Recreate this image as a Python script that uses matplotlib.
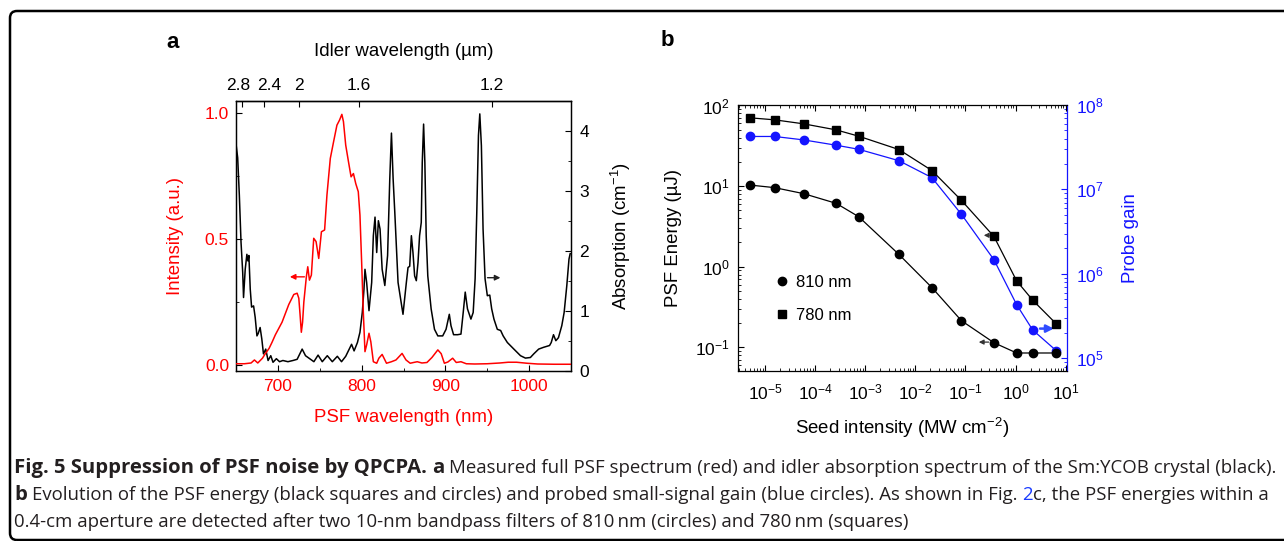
import numpy as np
import matplotlib
matplotlib.use("Agg")
import matplotlib.pyplot as plt
from matplotlib.patches import FancyBboxPatch
from matplotlib.transforms import IdentityTransform
from matplotlib.ticker import MultipleLocator, LogLocator, NullFormatter, FormatStrFormatter
from matplotlib.lines import Line2D

plt.rcParams.update({
    "font.family": ["Liberation Sans", "DejaVu Sans"],
    "mathtext.fontset": "custom",
    "mathtext.rm": "Liberation Sans",
    "mathtext.it": "Liberation Sans:italic",
    "mathtext.bf": "Liberation Sans:bold",
    "axes.linewidth": 0.9,
})

# ---------------- data: panel a ----------------
psf_nm = [650, 660, 668, 672, 676, 681.6, 685, 689.5, 693, 697,
          701, 705, 709, 713, 716, 719, 723, 725, 726.5, 728,
          729.5, 731, 734, 735.7, 737.7, 740, 742.8, 745.6, 748.8, 752,
          755.8, 758.6, 762.6, 766.5, 770.5, 773.6, 776.4, 778.3, 781, 784.3,
          787.4, 790.2, 793, 796, 798, 800, 802, 804, 806, 808.8,
          811, 814, 818, 820.6, 824.5, 829.7, 835.6, 841, 848.3, 853,
          858, 862, 866.4, 872, 878, 884, 891, 895, 898.8, 903,
          908.7, 913, 918.6, 925, 935, 950, 965, 975, 985, 997.5,
          1010, 1030, 1050]
psf_int = [0.005, 0.005, 0.008, 0.02, 0.008, 0.027, 0.045, 0.066, 0.09, 0.12,
           0.145, 0.17, 0.205, 0.24, 0.26, 0.28, 0.285, 0.265, 0.2, 0.13,
           0.17, 0.25, 0.35, 0.39, 0.337, 0.357, 0.503, 0.49, 0.423, 0.529,
           0.536, 0.675, 0.82, 0.886, 0.952, 0.972, 0.995, 0.966, 0.873, 0.807,
           0.747, 0.76, 0.72, 0.688, 0.595, 0.41, 0.21, 0.053, 0.08, 0.126,
           0.092, 0.013, 0.007, 0.027, 0.042, 0.007, 0.013, 0.02, 0.046, 0.02,
           0.007, 0.01, 0.013, 0.008, 0.01, 0.03, 0.06, 0.045, 0.007, 0.012,
           0.027, 0.01, 0.013, 0.005, 0.004, 0.005, 0.008, 0.011, 0.011, 0.007,
           0.004, 0.003, 0.003]

abs_nm = [650, 652, 654, 656, 658, 659, 661, 663, 664.2, 665.4,
          667, 668.6, 671, 672.9, 675, 676.5, 678.8, 680.8, 682.8, 685.5,
          688.3, 691.5, 694.2, 698.2, 702, 706, 712, 718, 723, 729,
          733, 738, 743, 748, 753, 759, 765, 771, 776, 781,
          788, 791, 795, 798, 800.8, 802.8, 804, 806, 808.8, 812,
          814, 816, 818, 820, 822, 824.5, 827.7, 831, 833.6, 835.6,
          837.6, 839.6, 843.5, 849.4, 853.4, 855.4, 857.4, 859.4, 861.3, 863.3,
          865.3, 867.3, 869.2, 871.2, 872.4, 874, 875.5, 877.1, 879, 883,
          887, 891, 896.8, 900.8, 904.7, 906.7, 909.8, 914.6, 918.6, 921.3,
          923.7, 926.4, 930.5, 933.2, 935.5, 937.5, 939.5, 941.1, 943, 945,
          947.4, 950.1, 953, 955.3, 958, 962, 966, 969, 974, 981.8,
          989.7, 995.6, 1001.5, 1005.5, 1011.4, 1017.3, 1024.4, 1026.4, 1029.1, 1031.9,
          1035, 1039, 1041.8, 1045, 1047.6, 1049]
abs_val = [3.78, 3.55, 2.92, 2.14, 1.64, 1.22, 1.69, 1.94, 1.83, 1.92,
           1.36, 1.06, 1.08, 0.89, 0.58, 0.62, 0.72, 0.53, 0.28, 0.36,
           0.17, 0.25, 0.14, 0.2, 0.15, 0.17, 0.15, 0.17, 0.19, 0.36,
           0.25, 0.2, 0.15, 0.26, 0.15, 0.25, 0.15, 0.24, 0.15, 0.24,
           0.44, 0.33, 0.47, 0.64, 0.97, 1.36, 1.69, 1.47, 1.0, 1.47,
           2.25, 2.56, 1.97, 2.5, 2.36, 1.69, 1.42, 1.92, 3.19, 3.96,
           3.2, 2.64, 1.47, 0.94, 1.47, 1.72, 1.74, 2.25, 1.97, 1.58,
           1.5, 1.8, 2.25, 2.47, 3.47, 4.11, 3.47, 2.25, 1.58, 1.03,
           0.69, 0.58, 0.58, 0.69, 0.94, 0.75, 0.6, 0.6, 0.61, 0.97,
           1.31, 1.03, 0.86, 0.97, 1.53, 2.64, 3.92, 4.28, 3.75, 2.36,
           1.53, 1.25, 1.26, 1.03, 0.86, 0.69, 0.67, 0.58, 0.47, 0.36,
           0.25, 0.21, 0.22, 0.28, 0.36, 0.39, 0.42, 0.47, 0.6, 0.5,
           0.55, 0.75, 0.97, 1.42, 1.86, 1.95]

pump_nm = 532.0
idler_ticks = [2.8, 2.4, 2.0, 1.6, 1.2]
idler_labels = ["2.8", "2.4", "2", "1.6", "1.2"]

# ---------------- data: panel b ----------------
seed = [5.0e-6, 1.55e-5, 5.9e-5, 2.63e-4, 7.4e-4, 4.7e-3, 0.0214, 0.083, 0.37, 1.05, 2.19, 6.5]
e780 = [70.3, 66.4, 59.2, 49.8, 41.6, 28.4, 15.6, 6.65, 2.37, 0.667, 0.385, 0.195]
e810 = [10.3, 9.57, 8.06, 6.11, 4.17, 1.42, 0.551, 0.214, 0.114, 0.085, 0.085, 0.085]
gain = [4.24e7, 4.24e7, 3.86e7, 3.34e7, 2.99e7, 2.19e7, 1.38e7, 5.08e6, 1.47e6, 4.32e5, 2.17e5, 1.23e5]

W, H = 1284, 541
fig = plt.figure(figsize=(W / 100, H / 100), dpi=100)


def rect(l, t, r, b):
    return [l / W, 1 - b / H, (r - l) / W, (b - t) / H]


RED = "#ff0000"
BLUE = "#1414ff"
TICK = 12.5
LAB = 13.4

# ================= panel a =================
axA = fig.add_axes(rect(236, 101, 571, 370.7))
axA.plot(psf_nm, psf_int, color=RED, lw=1.1, zorder=3)
axA.set_xlim(650, 1050)
axA.set_ylim(-0.0226, 1.048)
axA.xaxis.set_major_locator(MultipleLocator(100))
axA.xaxis.set_minor_locator(MultipleLocator(50))
axA.yaxis.set_major_locator(MultipleLocator(0.5))
axA.yaxis.set_minor_locator(MultipleLocator(0.25))
axA.yaxis.set_major_formatter(FormatStrFormatter("%.1f"))
axA.tick_params(which="both", direction="in", top=False, right=False, labelsize=TICK)
axA.tick_params(which="major", length=4)
axA.tick_params(which="minor", length=2.5)
axA.tick_params(axis="both", labelcolor=RED)
axA.tick_params(axis="x", pad=6)
axA.tick_params(axis="y", pad=5)
axA.set_xlabel("PSF wavelength (nm)", color=RED, fontsize=LAB, labelpad=11)
axA.set_ylabel("Intensity (a.u.)", color=RED, fontsize=LAB, labelpad=15)

axA2 = axA.twinx()
axA2.plot(abs_nm, abs_val, color="black", lw=1.1, zorder=2)
axA2.set_ylim(0, 4.495)
axA2.yaxis.set_major_locator(MultipleLocator(1))
axA2.yaxis.set_minor_locator(MultipleLocator(0.5))
axA2.tick_params(which="both", direction="in", labelsize=TICK, pad=6)
axA2.tick_params(which="major", length=4)
axA2.tick_params(which="minor", length=2.5)
axA2.set_ylabel("Absorption (cm$^{-1}$)", fontsize=LAB, labelpad=14)
axA.set_zorder(axA2.get_zorder() + 1)
axA.patch.set_visible(False)


def sig2idl(x):
    x = np.asarray(x, dtype=float)
    with np.errstate(divide="ignore", invalid="ignore"):
        return 1.0 / (1.0 / pump_nm - 1.0 / x) / 1000.0


def idl2sig(i):
    i = np.asarray(i, dtype=float)
    with np.errstate(divide="ignore", invalid="ignore"):
        return 1.0 / (1.0 / pump_nm - 1.0 / (1000.0 * i))


sec = axA.secondary_xaxis("top", functions=(sig2idl, idl2sig))
sec.set_xticks(idler_ticks)
sec.tick_params(direction="in", length=4, labeltop=False)
sec.set_xlabel("Idler wavelength (\u00b5m)", fontsize=LAB, va="center")
sec.xaxis.set_label_coords((236 + 571) / 2 / W, 1 - 52 / H, transform=fig.transFigure)

# idler tick labels (the two crowded ones are nudged apart as in the original)
label_nudge = {"2.8": -2.7, "2.4": 3.8}
for v, lab in zip(idler_ticks, idler_labels):
    axA.annotate(lab, xy=(float(idl2sig(v)), 1.0), xycoords=axA.get_xaxis_transform(),
                 xytext=(label_nudge.get(lab, 0.0), 6), textcoords="offset points",
                 ha="center", va="bottom", fontsize=TICK, color="black")

axA.annotate("", xy=(711, 0.35), xytext=(735, 0.35),
             arrowprops=dict(arrowstyle="-|>", color=RED, lw=1.0, mutation_scale=8))
axA2.annotate("", xy=(969, 1.55), xytext=(947, 1.55),
              arrowprops=dict(arrowstyle="-|>", color="#222222", lw=1.0, mutation_scale=8))

# ================= panel b =================
axB = fig.add_axes(rect(737.7, 105, 1066.7, 371))
axB.set_xscale("log")
axB.set_yscale("log")
axB.plot(seed, e780, "-s", color="black", ms=5.2, lw=0.9, zorder=3)
axB.plot(seed, e810, "-o", color="black", ms=6.0, lw=0.9, zorder=3)
axB.set_xlim(10 ** -5.545, 10 ** 1.02)
axB.set_ylim(10 ** -1.294, 10 ** 2.006)
for a in (axB.xaxis, axB.yaxis):
    a.set_major_locator(LogLocator(base=10, numticks=20))
    a.set_minor_locator(LogLocator(base=10, subs=np.arange(2, 10), numticks=20))
    a.set_minor_formatter(NullFormatter())
axB.tick_params(which="both", direction="in", top=True, right=False, labelsize=TICK)
axB.tick_params(which="major", length=4.5)
axB.tick_params(which="minor", length=2.5)
axB.tick_params(axis="x", pad=8)
axB.tick_params(axis="y", pad=6)
axB.spines["right"].set_visible(False)
axB.set_xlabel("Seed intensity (MW cm$^{-2}$)", fontsize=LAB, labelpad=10)
axB.set_ylabel("PSF Energy (\u00b5J)", fontsize=LAB, labelpad=9)

axB2 = axB.twinx()
axB2.set_yscale("log")
axB2.plot(seed, gain, "-o", color=BLUE, ms=6.0, lw=0.9, zorder=2)
axB2.set_ylim(10 ** 4.85, 10 ** 8.0)
axB2.yaxis.set_major_locator(LogLocator(base=10, numticks=20))
axB2.yaxis.set_minor_locator(LogLocator(base=10, subs=np.arange(2, 10), numticks=20))
axB2.yaxis.set_minor_formatter(NullFormatter())
axB2.tick_params(which="both", direction="in", colors=BLUE, labelsize=TICK, pad=7)
axB2.tick_params(which="major", length=4.5)
axB2.tick_params(which="minor", length=2.5)
for s in ("left", "top", "bottom"):
    axB2.spines[s].set_visible(False)
axB2.spines["right"].set_color(BLUE)
axB2.set_ylabel("Probe gain", color=BLUE, fontsize=LAB, labelpad=13)
axB.set_zorder(axB2.get_zorder() + 1)
axB.patch.set_visible(False)

axB.legend(handles=[Line2D([], [], marker="o", ls="none", color="black", ms=6.0),
                    Line2D([], [], marker="s", ls="none", color="black", ms=5.2)],
           labels=["810 nm", "780 nm"], frameon=False, fontsize=12,
           loc="upper left", bbox_to_anchor=(775 / W, 1 - 275 / H),
           bbox_transform=fig.transFigure, borderpad=0, borderaxespad=0,
           handlelength=0.8, handletextpad=0.45, labelspacing=1.05)

axB.annotate("", xy=(10 ** -0.69, 2.45), xytext=(10 ** -0.47, 2.45),
             arrowprops=dict(arrowstyle="-|>", color="#333333", lw=0.9, mutation_scale=7))
axB.annotate("", xy=(10 ** -0.79, 0.116), xytext=(10 ** -0.48, 0.116),
             arrowprops=dict(arrowstyle="-|>", color="#333333", lw=0.9, mutation_scale=7))
axB2.annotate("", xy=(6.6, 2.25e5), xytext=(2.7, 2.25e5),
              arrowprops=dict(arrowstyle="-|>", color="#2f4cff", lw=1.8, mutation_scale=11))

# panel letters
fig.text(173 / W, 1 - 43 / H, "a", fontsize=16, fontweight="bold", ha="center", va="center")
fig.text(667 / W, 1 - 41 / H, "b", fontsize=16, fontweight="bold", ha="center", va="center")

# frame
frame = FancyBboxPatch((10, 1), 1300, 529, boxstyle="round,pad=0,rounding_size=7",
                       transform=IdentityTransform(), fill=False, ec="black", lw=1.8,
                       clip_on=False)
fig.patches.append(frame)

# caption
CAP = "#231f20"
LINK = "#1a3cff"
title_txt = "Fig. 5 Suppression of PSF noise by QPCPA."
line3_txt = ("0.4-cm aperture are detected after two 10-nm bandpass filters of "
             "810\u2009nm (circles) and 780\u2009nm (squares)")
cap_lines = [
    [(title_txt, "bold", CAP), ("a", "bold", CAP),
     ("Measured full PSF spectrum (red) and idler absorption spectrum of the Sm:YCOB crystal (black).", "normal", CAP)],
    [("b", "bold", CAP),
     ("Evolution of the PSF energy (black squares and circles) and probed small-signal gain (blue circles). As shown in Fig.", "normal", CAP),
     ("2", "normal", LINK), ("c, the PSF energies within a", "normal", CAP)],
    [(line3_txt, "normal", CAP)],
]
cap_base = [473, 500, 527]
renderer = fig.canvas.get_renderer()
CFONT = ["Open Sans", "DejaVu Sans"]


def text_w(s, size, weight):
    t = fig.text(0, 0, s, fontsize=size, fontweight=weight, family=CFONT)
    w = t.get_window_extent(renderer).width
    t.remove()
    return w


s0 = 12.0
bold_size = s0 * 412.0 / text_w(title_txt, s0, "bold")
reg_size = s0 * 893.0 / text_w(line3_txt, s0, "normal")
space = text_w("x x", reg_size, "normal") - text_w("xx", reg_size, "normal")

for pieces, yb in zip(cap_lines, cap_base):
    x = 14.0
    for k, (s, wgt, c) in enumerate(pieces):
        sz = bold_size if wgt == "bold" else reg_size
        t = fig.text(x / W, 1 - yb / H, s, fontsize=sz, fontweight=wgt, color=c,
                     family=CFONT, ha="left", va="baseline")
        x += t.get_window_extent(renderer).width
        if k < len(pieces) - 1 and not pieces[k + 1][0].startswith("c,"):
            x += space

fig.savefig("out.png", dpi=100)
